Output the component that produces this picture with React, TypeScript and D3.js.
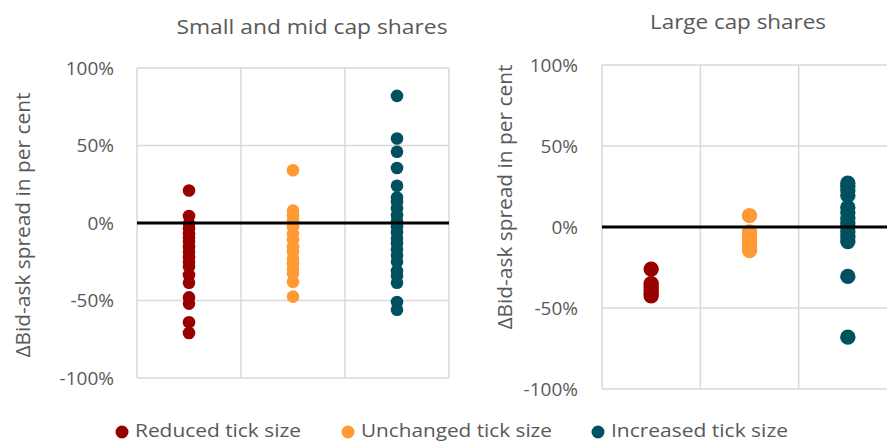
import React from "react";
import * as d3 from "d3";

const categories = ["Reduced tick size", "Unchanged tick size", "Increased tick size"];
const yTicks = [100, 50, 0, -50, -100];

const smallReduced = [21, 4.5, -0.5, -3.5, -7, -9.5, -12, -15.5, -18.5, -22, -25, -28, -33.5, -38.5, -48, -52, -64, -71];
const smallUnchanged = [34, 8, 5, 1.5, -2.5, -7, -11, -15.5, -18.5, -23, -26, -29.5, -32.5, -38, -47.5];
const smallIncreased = [82, 54.5, 46, 35.5, 24, 16.5, 13.5, 9.5, 5, 1, -2.5, -6, -10, -13, -17, -21, -25, -31, -34, -38.5, -51, -56];

const largeReduced = [-26, -35, -37, -39, -41, -42.5];
const largeUnchanged = [7, -3, -5, -7, -9, -11, -13, -14.5];
const largeIncreased = [27, 25, 22.5, 19.5, 12, 9, 5.5, 2.5, 0, -3, -6, -9, -30.5, -68];

const colors = ["#990000", "#FF9933", "#00505F"];
const TEXT = "#595959";
const GRID = "#D9D9D9";
const FONT = "'Open Sans', sans-serif";

type PanelProps = {
  title: string;
  titleX: number;
  titleY: number;
  titleLen: number;
  series: number[][];
  x0: number;
  x1: number;
  y0: number;
  y1: number;
  r: number;
  labelX: number;
  axisTitleX: number;
  axisTitleY: number;
};

function Panel(p: PanelProps) {
  const x = d3.scaleBand<string>().domain(categories).range([p.x0, p.x1]).padding(0);
  const y = d3.scaleLinear().domain([-100, 100]).range([p.y1, p.y0]);
  const bounds = [p.x0, ...categories.map((c) => (x(c) as number) + x.bandwidth())];
  return (
    <g>
      <text x={p.titleX} y={p.titleY} textAnchor="middle" fill={TEXT} fontFamily={FONT} fontSize={20}
        textLength={p.titleLen} lengthAdjust="spacingAndGlyphs">{p.title}</text>
      {bounds.map((bx, i) => (
        <line key={"v" + i} x1={bx} x2={bx} y1={p.y0} y2={p.y1} stroke={GRID} strokeWidth={1.5} />
      ))}
      {yTicks.filter((t) => t !== 0).map((t) => (
        <line key={"h" + t} x1={p.x0} x2={p.x1} y1={y(t)} y2={y(t)} stroke={GRID} strokeWidth={1.5} />
      ))}
      {yTicks.map((t) => (
        <text key={"l" + t} x={p.labelX} y={y(t)} dy="0.36em" textAnchor="end" fill={TEXT}
          fontFamily={FONT} fontSize={19}>{t + "%"}</text>
      ))}
      <text transform={`translate(${p.axisTitleX},${p.axisTitleY}) rotate(-90)`} textAnchor="middle"
        dy="0.36em" fill={TEXT} fontFamily={FONT} fontSize={20} textLength={265}
        lengthAdjust="spacingAndGlyphs">ΔBid-ask spread in per cent</text>
      {p.series.map((vals, si) =>
        vals.map((v, i) => (
          <circle key={si + "-" + i} cx={(x(categories[si]) as number) + x.bandwidth() / 2} cy={y(v)}
            r={p.r} fill={colors[si]} />
        ))
      )}
      <line x1={p.x0} x2={p.x1} y1={y(0)} y2={y(0)} stroke="#000" strokeWidth={3} />
    </g>
  );
}

const legendPos = [
  { dot: 122, text: 135, len: 166 },
  { dot: 348, text: 361, len: 191 },
  { dot: 598, text: 611, len: 177 },
];

export default function App() {
  return (
    <svg width={887} height={443} style={{ position: "absolute", left: 0, top: 0, background: "#fff" }}>
      <rect x={0} y={0} width={887} height={443} fill="#fff" />
      <Panel title="Small and mid cap shares" titleX={312} titleY={34} titleLen={271}
        series={[smallReduced, smallUnchanged, smallIncreased]}
        x0={137} x1={449} y0={68} y1={378} r={6.3} labelX={114} axisTitleX={23} axisTitleY={225} />
      <Panel title="Large cap shares" titleX={738} titleY={29} titleLen={176}
        series={[largeReduced, largeUnchanged, largeIncreased]}
        x0={602} x1={897} y0={65} y1={389} r={7.7} labelX={578} axisTitleX={505} axisTitleY={197} />
      {categories.map((c, i) => (
        <g key={c}>
          <circle cx={legendPos[i].dot} cy={432} r={6.5} fill={colors[i]} />
          <text x={legendPos[i].text} y={437} fill={TEXT} fontFamily={FONT} fontSize={18}
            textLength={legendPos[i].len} lengthAdjust="spacingAndGlyphs">{c}</text>
        </g>
      ))}
    </svg>
  );
}
